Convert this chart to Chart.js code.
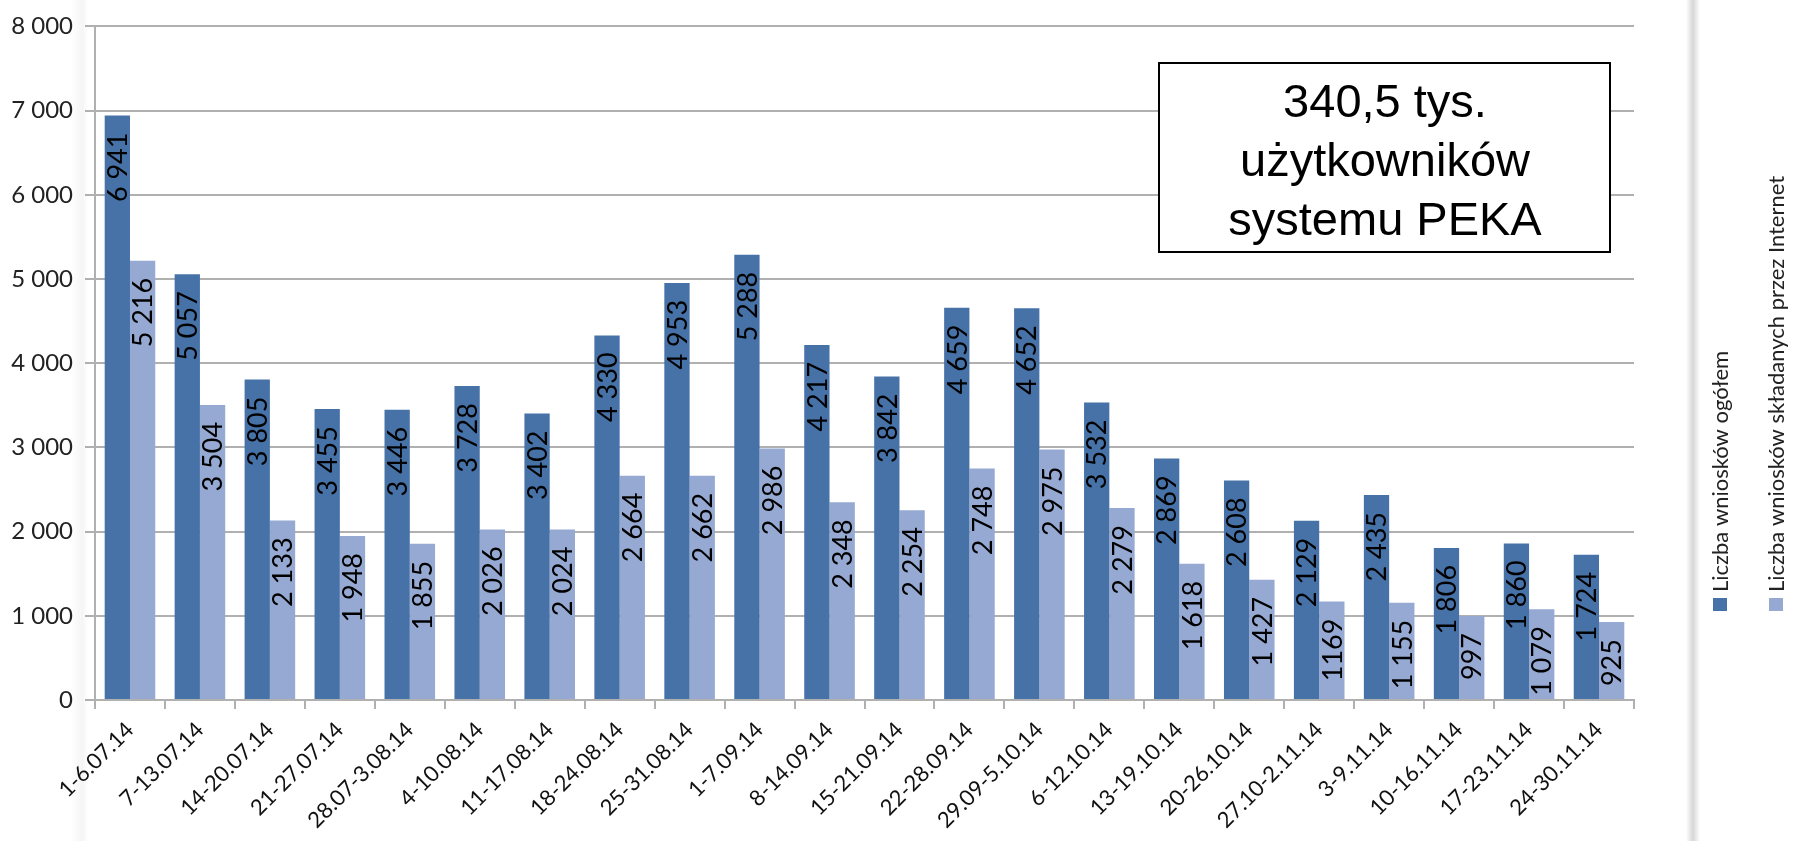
<!DOCTYPE html>
<html>
<head>
<meta charset="utf-8">
<script src="https://cdn.jsdelivr.net/npm/chart.js@4/dist/chart.umd.min.js"></script>
<style>
html,body{margin:0;padding:0;background:#fff;}
#wrap{width:1796px;height:841px;position:relative;}
</style>
</head>
<body>
<div id="wrap"><canvas id="c" width="1796" height="841"></canvas></div>
<script>
const categories = ["1-6.07.14","7-13.07.14","14-20.07.14","21-27.07.14","28.07-3.08.14","4-10.08.14","11-17.08.14","18-24.08.14","25-31.08.14","1-7.09.14","8-14.09.14","15-21.09.14","22-28.09.14","29.09-5.10.14","6-12.10.14","13-19.10.14","20-26.10.14","27.10-2.11.14","3-9.11.14","10-16.11.14","17-23.11.14","24-30.11.14"];
const totalApplications = [6941,5057,3805,3455,3446,3728,3402,4330,4953,5288,4217,3842,4659,4652,3532,2869,2608,2129,2435,1806,1860,1724];
const internetApplications = [5216,3504,2133,1948,1855,2026,2024,2664,2662,2986,2348,2254,2748,2975,2279,1618,1427,1169,1155,997,1079,925];
const seriesLabels = ["Liczba wniosków ogółem","Liczba wniosków składanych przez Internet"];
const seriesColors = ["#4672A8","#95A9D2"];
const yTickValues = [0,1000,2000,3000,4000,5000,6000,7000,8000];
const boxLines = ["340,5 tys.","użytkowników","systemu PEKA"];
// labels printed without thousands separator in the original (dataset index -> category indices)
const unseparated = {1:[17]};

function fmt(v){
  const s = String(Math.round(v));
  return s.replace(/\B(?=(\d{3})+(?!\d))/g, "\u00A0");
}
function labelText(di,i,v){
  if (unseparated[di] && unseparated[di].includes(i)) return String(v);
  return fmt(v);
}

const bgPlugin = {
  id:'bg',
  beforeDraw(chart){
    const ctx = chart.ctx;
    ctx.save();
    ctx.fillStyle = '#fff';
    ctx.fillRect(0,0,chart.width,chart.height);
    let g = ctx.createLinearGradient(70,0,88,0);
    g.addColorStop(0,'rgba(0,0,0,0)');
    g.addColorStop(0.7,'rgba(0,0,0,0.04)');
    g.addColorStop(1,'rgba(0,0,0,0)');
    ctx.fillStyle = g; ctx.fillRect(70,0,18,chart.height);
    g = ctx.createLinearGradient(1686,0,1700,0);
    g.addColorStop(0,'rgba(0,0,0,0)');
    g.addColorStop(0.5,'rgba(0,0,0,0.16)');
    g.addColorStop(1,'rgba(0,0,0,0)');
    ctx.fillStyle = g; ctx.fillRect(1686,0,14,chart.height);
    ctx.restore();
  }
};

const barLabels = {
  id:'barLabels',
  afterDatasetsDraw(chart){
    const ctx = chart.ctx;
    const fs = 27;
    chart.data.datasets.forEach((ds,di)=>{
      const meta = chart.getDatasetMeta(di);
      meta.data.forEach((bar,i)=>{
        const txt = labelText(di,i,ds.data[i]);
        ctx.save();
        ctx.translate(bar.x, bar.y + 17);
        ctx.rotate(-Math.PI/2);
        ctx.font = fs + 'px Lato';
        ctx.fillStyle = '#000';
        ctx.textAlign = 'right';
        ctx.textBaseline = 'alphabetic';
        ctx.fillText(txt, 0, fs*0.36);
        ctx.restore();
      });
    });
  }
};

const extras = {
  id:'extras',
  afterDraw(chart){
    const ctx = chart.ctx;
    ctx.save();
    ctx.fillStyle = '#fff';
    ctx.fillRect(1159,63,451,189);
    ctx.strokeStyle = '#000';
    ctx.lineWidth = 2;
    ctx.strokeRect(1159,63,451,189);
    ctx.fillStyle = '#000';
    ctx.font = '47px "Liberation Sans", Arial, sans-serif';
    ctx.textAlign = 'center';
    ctx.textBaseline = 'alphabetic';
    const bl = [117,176,235];
    boxLines.forEach((t,k)=>ctx.fillText(t,1385,bl[k]));
    // vertical legend
    const lx = [1720,1776];
    const lfs = 22;
    chart.data.datasets.forEach((ds,i)=>{
      ctx.fillStyle = ds.backgroundColor;
      ctx.fillRect(lx[i]-7,598,14,13);
      ctx.save();
      ctx.translate(lx[i],592);
      ctx.rotate(-Math.PI/2);
      ctx.font = lfs + 'px Lato';
      ctx.fillStyle = '#222';
      ctx.textAlign = 'left';
      ctx.textBaseline = 'alphabetic';
      ctx.fillText(ds.label,0,lfs*0.36);
      ctx.restore();
    });
    ctx.restore();
  }
};

const gridColor = '#B0B0B0';
new Chart(document.getElementById('c'), {
  type:'bar',
  data:{
    labels: categories,
    datasets:[
      {label:seriesLabels[0], data:totalApplications, backgroundColor:seriesColors[0], categoryPercentage:0.723, barPercentage:1.0, borderWidth:0},
      {label:seriesLabels[1], data:internetApplications, backgroundColor:seriesColors[1], categoryPercentage:0.723, barPercentage:1.0, borderWidth:0}
    ]
  },
  options:{
    responsive:false,
    animation:false,
    devicePixelRatio:1,
    layout:{padding:{top:20,right:162,left:0,bottom:0}},
    plugins:{legend:{display:false}, tooltip:{enabled:false}, title:{display:false}},
    scales:{
      x:{
        offset:true,
        grid:{offset:true, drawOnChartArea:false, drawTicks:true, tickLength:9, color:gridColor, lineWidth:2},
        border:{color:gridColor, width:2},
        ticks:{autoSkip:false, maxRotation:45, minRotation:45, color:'#111', padding:8, font:{family:'Lato', size:22}},
        afterFit(s){ s.height = 141; }
      },
      y:{
        min:0, max:8000,
        afterBuildTicks(s){ s.ticks = yTickValues.map(v=>({value:v})); },
        ticks:{color:'#222', padding:12, font:{family:'Lato', size:24}, callback:(v)=>fmt(v)},
        grid:{color:gridColor, lineWidth:2, tickLength:10},
        border:{color:gridColor, width:2},
        afterFit(s){ s.width = 95; }
      }
    }
  },
  plugins:[bgPlugin, barLabels, extras]
});
</script>
</body>
</html>
